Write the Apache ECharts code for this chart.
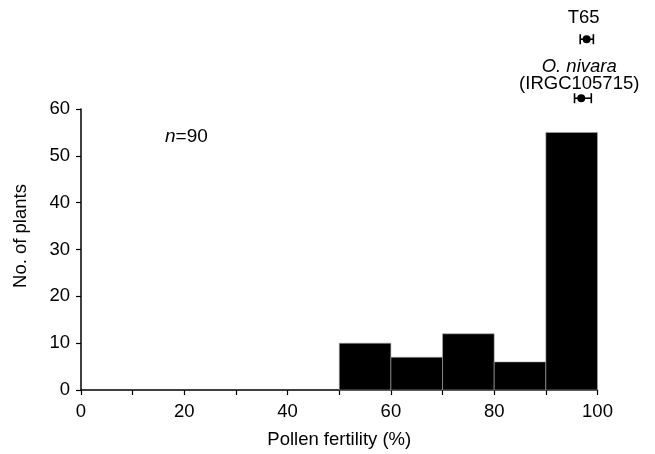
<!DOCTYPE html>
<html>
<head>
<meta charset="utf-8">
<script src="https://cdn.jsdelivr.net/npm/echarts@6/dist/echarts.min.js"></script>
<style>
  html, body { margin: 0; padding: 0; background: #fff; }
  #main { width: 655px; height: 454px; }
</style>
</head>
<body>
<div id="main"></div>
<script>
// histogram bins (pollen fertility %) and counts
const binStart = [50, 60, 70, 80, 90];
const binEnd = [60, 70, 80, 90, 100];
const plantCounts = [10, 7, 12, 6, 55];

// parental lines: mean and range of pollen fertility, drawn above the plot
const parentNames = ["T65", "O. nivara"];
const parentMean = [97.9, 96.85];
const parentLow = [96.65, 95.55];
const parentHigh = [99.2, 98.8];
const parentLevel = [74.9, 62.3];

const xTicks = [0, 20, 40, 60, 80, 100];
const yTicks = [0, 10, 20, 30, 40, 50, 60];

const font = "'Liberation Sans', Arial, Helvetica, sans-serif";
const fs = 18.5;

let histData = binStart.map((s, i) => [s, binEnd[i], plantCounts[i]]);
let parentData = parentNames.map((n, i) => [parentMean[i], parentLow[i], parentHigh[i], parentLevel[i], n]);

let chart = echarts.init(document.getElementById("main"));

chart.setOption({
  animation: false,
  grid: { left: 81, right: 57.5, top: 109, bottom: 59 },
  xAxis: {
    type: "value",
    min: 0,
    max: 100,
    interval: 10,
    name: "Pollen fertility (%)",
    nameLocation: "middle",
    nameGap: 40,
    nameTextStyle: { color: "#000", fontSize: fs, fontFamily: font },
    axisLine: { lineStyle: { color: "#000", width: 1.5 } },
    axisTick: { length: 5, lineStyle: { color: "#000", width: 1.2 } },
    axisLabel: {
      color: "#000",
      fontSize: fs,
      fontFamily: font,
      margin: 12,
      formatter: v => (xTicks.indexOf(v) >= 0 ? String(v) : "")
    },
    splitLine: { show: false }
  },
  yAxis: {
    type: "value",
    min: 0,
    max: 60,
    interval: 10,
    axisLine: { show: true, lineStyle: { color: "#000", width: 1.5 } },
    axisTick: { show: true, length: 5, lineStyle: { color: "#000", width: 1.2 } },
    axisLabel: {
      color: "#000",
      fontSize: fs,
      fontFamily: font,
      margin: 11,
      formatter: v => (yTicks.indexOf(v) >= 0 ? String(v) : "")
    },
    splitLine: { show: false }
  },
  graphic: [
    {
      type: "text",
      x: 21,
      y: 236,
      rotation: Math.PI / 2,
      style: {
        text: "No. of plants",
        font: fs + "px " + font,
        fill: "#000",
        align: "center",
        verticalAlign: "middle"
      }
    },
    {
      type: "text",
      x: 165,
      y: 137,
      style: {
        text: "{i|n}=90",
        font: "19px " + font,
        fill: "#000",
        verticalAlign: "middle",
        rich: { i: { fontStyle: "italic", fontSize: 19, fontFamily: font } }
      }
    }
  ],
  series: [
    {
      type: "custom",
      data: histData,
      encode: { x: [0, 1], y: 2 },
      renderItem: function (params, api) {
        let p0 = api.coord([api.value(0), api.value(2)]);
        let p1 = api.coord([api.value(1), 0]);
        return {
          type: "rect",
          shape: { x: p0[0], y: p0[1], width: p1[0] - p0[0], height: p1[1] - p0[1] },
          style: { fill: "#000", stroke: "#aaa", lineWidth: 0.6 }
        };
      }
    },
    {
      type: "custom",
      data: parentData,
      clip: false,
      renderItem: function (params, api) {
        let y = api.value(3);
        let m = api.coord([api.value(0), y]);
        let lo = api.coord([api.value(1), y]);
        let hi = api.coord([api.value(2), y]);
        let cap = 5;
        let children = [
          { type: "line", shape: { x1: lo[0], y1: m[1], x2: hi[0], y2: m[1] }, style: { stroke: "#000", lineWidth: 1.6 } },
          { type: "line", shape: { x1: lo[0], y1: m[1] - cap, x2: lo[0], y2: m[1] + cap }, style: { stroke: "#000", lineWidth: 1.6 } },
          { type: "line", shape: { x1: hi[0], y1: m[1] - cap, x2: hi[0], y2: m[1] + cap }, style: { stroke: "#000", lineWidth: 1.6 } },
          { type: "circle", shape: { cx: m[0], cy: m[1], r: 4 }, style: { fill: "#000" } }
        ];
        let name = parentNames[params.dataIndex];
        if (name === "T65") {
          children.push({
            type: "text",
            style: {
              text: "T65", x: m[0] - 3, y: m[1] - 21,
              align: "center", verticalAlign: "middle",
              font: fs + "px " + font, fill: "#000"
            }
          });
        } else {
          children.push({
            type: "text",
            style: {
              text: "{i|O. nivara}\n(IRGC105715)", x: m[0] - 2, y: m[1] - 23,
              align: "center", verticalAlign: "middle",
              font: fs + "px " + font, fill: "#000", lineHeight: 17,
              rich: { i: { fontStyle: "italic", fontSize: fs, fontFamily: font, lineHeight: 17 } }
            }
          });
        }
        return { type: "group", children: children };
      }
    }
  ]
});
</script>
</body>
</html>
